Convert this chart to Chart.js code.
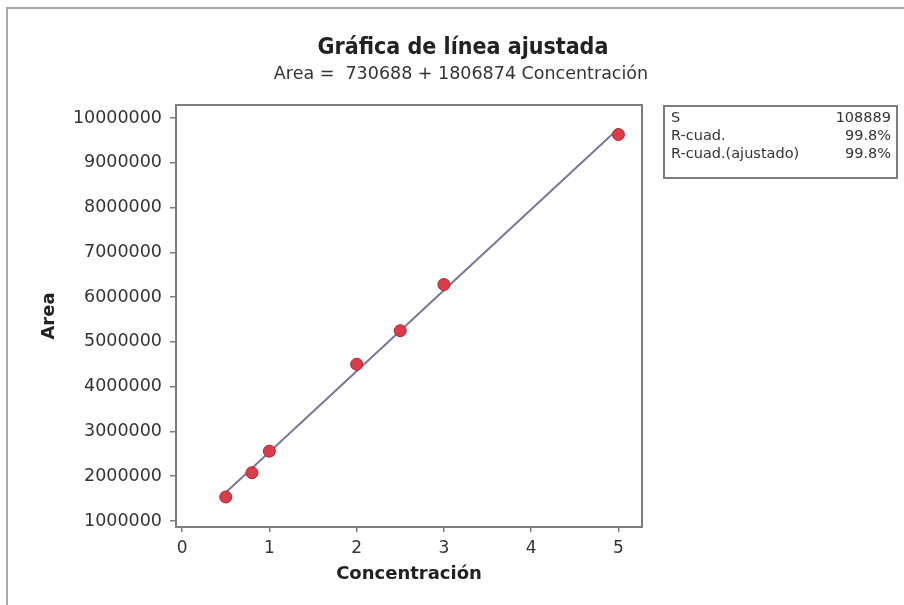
<!DOCTYPE html>
<html>
<head>
<meta charset="utf-8">
<script src="https://cdn.jsdelivr.net/npm/chart.js@4.4.1/dist/chart.umd.min.js"></script>
<style>
  html, body { margin: 0; padding: 0; background: #fff; }
  canvas { display: block; }
</style>
</head>
<body>
<canvas id="fitChart" width="904" height="605"></canvas>
<script>
// datos de calibracion
const concentracion = [0.5, 0.8, 1, 2, 2.5, 3, 5];
const area = [1536000, 2078000, 2560000, 4500000, 5250000, 6280000, 9630000];
const xTicks = [0, 1, 2, 3, 4, 5];
const yTicks = [1000000, 2000000, 3000000, 4000000, 5000000, 6000000, 7000000, 8000000, 9000000, 10000000];

// recta ajustada: Area = intercepto + pendiente * Concentracion
const intercepto = 730688;
const pendiente = 1806874;
const statLabels = ['S', 'R-cuad.', 'R-cuad.(ajustado)'];
const statValues = ['108889', '99.8%', '99.8%'];

const textColor = '#333';
const frameColor = '#7c7c7c';

const fitX = [concentracion[0], concentracion[concentracion.length - 1]];
const fitLine = fitX.map(x => ({ x: x, y: intercepto + pendiente * x }));
const points = concentracion.map((x, i) => ({ x: x, y: area[i] }));

const decorations = {
    id: 'decorations',
    beforeDraw(chart) {
        const ctx = chart.ctx;
        ctx.save();
        ctx.fillStyle = '#fff';
        ctx.fillRect(0, 0, chart.width, chart.height);
        ctx.restore();
    },
    afterDraw(chart) {
        const ctx = chart.ctx;
        const a = chart.chartArea;
        ctx.save();
        // marco exterior (solo arriba e izquierda visibles)
        ctx.strokeStyle = '#a8a8a8';
        ctx.lineWidth = 2;
        ctx.beginPath();
        ctx.moveTo(7, chart.height);
        ctx.lineTo(7, 8);
        ctx.lineTo(chart.width, 8);
        ctx.stroke();

        // marco del area de datos
        ctx.strokeStyle = frameColor;
        ctx.lineWidth = 2;
        ctx.strokeRect(a.left, a.top, a.right - a.left, a.bottom - a.top);

        // titulos
        ctx.fillStyle = '#222';
        ctx.textAlign = 'center';
        ctx.textBaseline = 'middle';
        ctx.font = 'bold 23px "DejaVu Sans Condensed", "DejaVu Sans"';
        ctx.fillText('Gráfica de línea ajustada', 463, 48);
        ctx.fillStyle = textColor;
        ctx.font = '17.5px "DejaVu Sans"';
        ctx.fillText('Area =  730688 + 1806874 Concentración', 461, 74);

        // recuadro de estadisticos
        ctx.strokeStyle = frameColor;
        ctx.lineWidth = 2;
        ctx.strokeRect(664, 106, 233, 72);
        ctx.font = '14.5px "DejaVu Sans"';
        const rows = [118, 136, 154];
        statLabels.forEach((lab, i) => {
            ctx.textAlign = 'left';
            ctx.fillText(lab, 671, rows[i]);
            ctx.textAlign = 'right';
            ctx.fillText(statValues[i], 891, rows[i]);
        });
        ctx.restore();
    }
};

const ctx = document.getElementById('fitChart');
new Chart(ctx, {
    type: 'scatter',
    data: {
        datasets: [
            {
                type: 'line',
                data: fitLine,
                borderColor: '#77789a',
                borderWidth: 2,
                pointRadius: 0,
                fill: false,
                order: 2
            },
            {
                data: points,
                backgroundColor: '#da3c4a',
                borderColor: '#b8232f',
                borderWidth: 1,
                pointRadius: 6,
                order: 1
            }
        ]
    },
    options: {
        responsive: false,
        animation: false,
        layout: { padding: { top: 105, right: 262, left: 0, bottom: 20 } },
        plugins: {
            legend: { display: false },
            tooltip: { enabled: false }
        },
        scales: {
            x: {
                type: 'linear',
                min: -0.07,
                max: 5.27,
                afterBuildTicks: (scale) => { scale.ticks = xTicks.map(v => ({ value: v })); },
                afterFit: (scale) => { scale.height = 58; },
                border: { display: false },
                grid: { drawOnChartArea: false, drawTicks: true, tickLength: 5, color: frameColor, lineWidth: 1.5 },
                ticks: {
                    color: textColor,
                    padding: 6,
                    font: { family: '"DejaVu Sans"', size: 17 },
                    callback: (v) => String(v)
                },
                title: {
                    display: true,
                    text: 'Concentración',
                    color: '#222',
                    font: { family: '"DejaVu Sans"', size: 18, weight: 'bold' },
                    padding: { top: 0, bottom: 0 }
                }
            },
            y: {
                type: 'linear',
                min: 866000,
                max: 10290000,
                afterBuildTicks: (scale) => { scale.ticks = yTicks.map(v => ({ value: v })); },
                afterFit: (scale) => { scale.width = 176; },
                border: { display: false },
                grid: { drawOnChartArea: false, drawTicks: true, tickLength: 6, color: frameColor, lineWidth: 1.5 },
                ticks: {
                    color: textColor,
                    padding: 8,
                    font: { family: '"DejaVu Sans"', size: 17.5 },
                    callback: (v) => String(v)
                },
                title: {
                    display: true,
                    text: 'Area',
                    color: '#222',
                    font: { family: '"DejaVu Sans"', size: 18, weight: 'bold' },
                    padding: { top: 39, bottom: 0 }
                }
            }
        }
    },
    plugins: [decorations]
});
</script>
</body>
</html>
